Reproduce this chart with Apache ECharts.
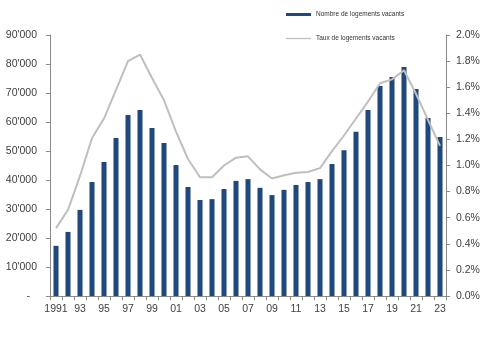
<!DOCTYPE html>
<html>
<head>
<meta charset="utf-8">
<script src="https://cdn.jsdelivr.net/npm/echarts@6/dist/echarts.min.js"></script>
<style>html,body{margin:0;padding:0;background:#fff;}#c{width:491px;height:340px;}</style>
</head>
<body>
<div id="c"></div>
<script>
var years = ['1991','1992','1993','1994','1995','1996','1997','1998','1999','2000','2001','2002','2003','2004','2005','2006','2007','2008','2009','2010','2011','2012','2013','2014','2015','2016','2017','2018','2019','2020','2021','2022','2023'];
var vacantCount = [17300,22100,29700,39300,46200,54500,62400,64100,57900,52800,45200,37600,33100,33400,36900,39700,40300,37300,34800,36600,38300,39300,40300,45500,50300,56600,64100,72400,75500,79000,71400,61400,54800];
var vacantRate = [0.52,0.66,0.92,1.21,1.36,1.58,1.80,1.85,1.67,1.50,1.26,1.05,0.91,0.91,1.00,1.06,1.07,0.97,0.90,0.925,0.945,0.95,0.98,1.11,1.23,1.36,1.49,1.63,1.66,1.73,1.55,1.35,1.15];
var leftTicks = [0,10000,20000,30000,40000,50000,60000,70000,80000,90000];
var rightTicks = [0,0.2,0.4,0.6,0.8,1.0,1.2,1.4,1.6,1.8,2.0];
var nameCount = 'Nombre de logements vacants';
var nameRate = 'Taux de logements vacants';

var FONT = 'Liberation Sans';
var LBL = '#404040';
var AX = '#8a8a8a';

var chart = echarts.init(document.getElementById('c'), null, {renderer:'canvas'});
chart.setOption({
  animation: false,
  backgroundColor: '#fff',
  legend: [
    {data:[{name:nameCount, icon:'rect'}], left:281, top:6, itemWidth:25, itemHeight:3, itemGap:4,
     textStyle:{fontFamily:FONT, fontSize:6.5, color:'#333'}},
    {data:[{name:nameRate, icon:'rect', itemStyle:{color:'#BFBFBF'}}], left:281, top:30, itemWidth:25, itemHeight:1.3,
     textStyle:{fontFamily:FONT, fontSize:6.5, color:'#333'}}
  ],
  grid: {left:50, right:45, top:35, bottom:44, containLabel:false},
  xAxis: {
    type:'category', data: years, boundaryGap:true,
    axisLine:{lineStyle:{color:AX, width:1}},
    axisTick:{show:true, interval:0, length:4, lineStyle:{color:AX}},
    axisLabel:{interval:1, margin:8, fontFamily:FONT, fontSize:10.5, color:LBL,
      formatter:function(v){return v==='1991'?'1991':v.slice(2);}}
  },
  yAxis: [
    {type:'value', min:leftTicks[0], max:leftTicks[leftTicks.length-1], interval:10000, position:'left',
     splitLine:{show:false},
     axisLine:{show:true, lineStyle:{color:AX}},
     axisTick:{show:true, length:4, lineStyle:{color:AX}},
     axisLabel:{margin:13, fontFamily:FONT, fontSize:10.5, color:LBL,
       formatter:function(v){ if(v===0) return '{z|-}'; return String(v).replace(/\B(?=(\d{3})+(?!\d))/g, "'");},
       rich:{z:{padding:[0,7,0,0], fontFamily:FONT, fontSize:10.5, color:LBL}}}
    },
    {type:'value', min:rightTicks[0], max:rightTicks[rightTicks.length-1], interval:0.2, position:'right',
     splitLine:{show:false},
     axisLine:{show:true, lineStyle:{color:AX}},
     axisTick:{show:true, length:4, lineStyle:{color:AX}},
     axisLabel:{margin:10, fontFamily:FONT, fontSize:10.5, color:LBL,
       formatter:function(v){return v.toFixed(1)+'%';}}
    }
  ],
  series: [
    {name:nameCount, type:'bar', data:vacantCount, yAxisIndex:0, barWidth:'42%',
     itemStyle:{color:'#1F497D'}},
    {name:nameRate, type:'line', data:vacantRate, yAxisIndex:1, symbol:'none', smooth:false,
     lineStyle:{color:'#BFBFBF', width:2}, itemStyle:{color:'#BFBFBF'}}
  ]
});
</script>
</body>
</html>
